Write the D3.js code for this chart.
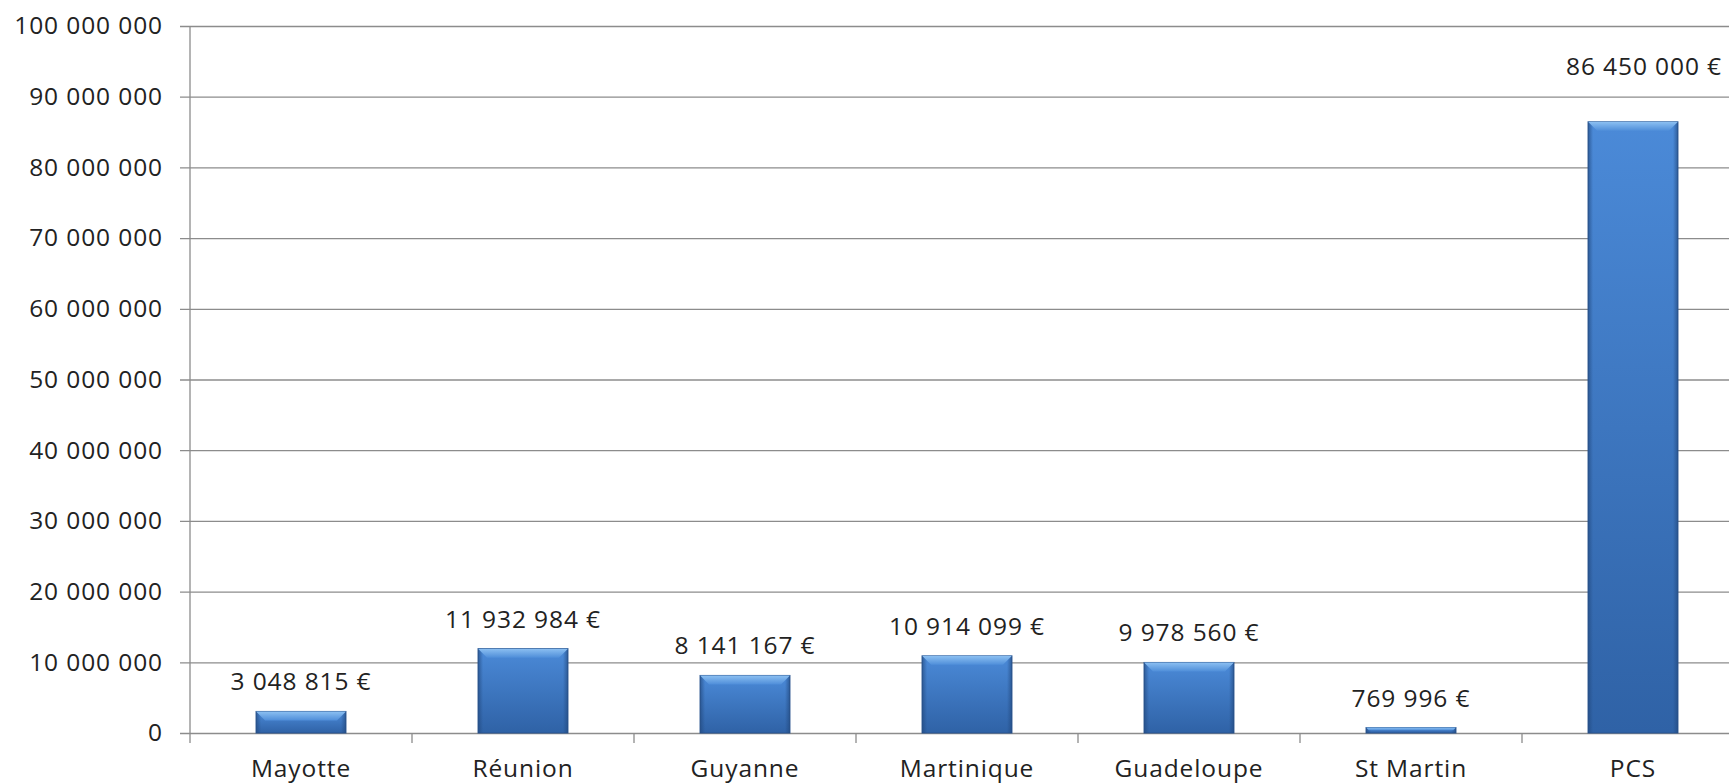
<!DOCTYPE html>
<html>
<head>
<meta charset="utf-8">
<script src="https://cdnjs.cloudflare.com/ajax/libs/d3/7.8.5/d3.min.js"></script>
<style>
body { margin: 0; background: #fff; }
svg { display: block; }
text { font-family: "Open Sans", sans-serif; fill: #222; letter-spacing: 0.9px; }
</style>
</head>
<body>
<svg width="1729" height="784"></svg>
<script>
// data
var categories = ["Mayotte", "Réunion", "Guyanne", "Martinique", "Guadeloupe", "St Martin", "PCS"];
var amounts = [3048815, 11932984, 8141167, 10914099, 9978560, 769996, 86450000];
var yTicks = [0, 10000000, 20000000, 30000000, 40000000, 50000000, 60000000, 70000000, 80000000, 90000000, 100000000];

var W = 1729, H = 784;
var plotLeft = 190, plotTop = 26, zeroY = 733;
var band = 222;
var fontSize = "24.5px";

var svg = d3.select("svg");

// space as thousands separator, like the original
var fmt = function(v) {
  return d3.format(",")(v).replace(/,/g, " ");
};

var x = d3.scaleBand()
    .domain(categories)
    .range([plotLeft, plotLeft + band * categories.length])
    .paddingInner(0.595)
    .paddingOuter(0.2975);

var y = d3.scaleLinear()
    .domain([0, 100000000])
    .range([zeroY, plotTop]);

// gradients
var defs = svg.append("defs");
var g1 = defs.append("linearGradient").attr("id", "barFill")
    .attr("x1", 0).attr("y1", 0).attr("x2", 0).attr("y2", 1);
g1.append("stop").attr("offset", "0%").attr("stop-color", "#4b8ad8");
g1.append("stop").attr("offset", "100%").attr("stop-color", "#2f62a6");

var g2 = defs.append("linearGradient").attr("id", "bevelTop")
    .attr("x1", 0).attr("y1", 0).attr("x2", 0).attr("y2", 1);
g2.append("stop").attr("offset", "0%").attr("stop-color", "#8cc0f2");
g2.append("stop").attr("offset", "100%").attr("stop-color", "#4f8ed9");

var g3 = defs.append("linearGradient").attr("id", "sideL")
    .attr("x1", 0).attr("y1", 0).attr("x2", 1).attr("y2", 0);
g3.append("stop").attr("offset", "0%").attr("stop-color", "#22497f").attr("stop-opacity", 0.7);
g3.append("stop").attr("offset", "100%").attr("stop-color", "#22497f").attr("stop-opacity", 0);

var g4 = defs.append("linearGradient").attr("id", "sideR")
    .attr("x1", 1).attr("y1", 0).attr("x2", 0).attr("y2", 0);
g4.append("stop").attr("offset", "0%").attr("stop-color", "#22497f").attr("stop-opacity", 0.7);
g4.append("stop").attr("offset", "100%").attr("stop-color", "#22497f").attr("stop-opacity", 0);

// gridlines + y labels
var yAxis = d3.axisLeft(y)
    .tickValues(yTicks)
    .tickSize(10)
    .tickPadding(17)
    .tickFormat(fmt);

var ya = svg.append("g")
    .attr("transform", "translate(" + plotLeft + ",0)")
    .call(yAxis);
ya.select(".domain").remove();
ya.selectAll(".tick line")
    .attr("x1", -10)
    .attr("x2", W - plotLeft)
    .attr("stroke", "#8c8c8c")
    .attr("stroke-width", 1.3);
ya.selectAll(".tick text")
    .attr("x", -27)
    .style("font-size", fontSize)
    .attr("fill", "#222");

// vertical axis line
svg.append("line")
    .attr("x1", plotLeft).attr("x2", plotLeft)
    .attr("y1", y(100000000)).attr("y2", zeroY + 10)
    .attr("stroke", "#8c8c8c")
    .attr("stroke-width", 1.3);

// x category ticks between bands
var bounds = d3.range(1, categories.length + 1).map(function(i) { return plotLeft + band * i; });
svg.selectAll(".xtick")
  .data(bounds)
  .enter()
    .append("line")
    .attr("class", "xtick")
    .attr("x1", function(d) { return d; })
    .attr("x2", function(d) { return d; })
    .attr("y1", zeroY)
    .attr("y2", zeroY + 10)
    .attr("stroke", "#8c8c8c")
    .attr("stroke-width", 1.3);

// bars
var bars = svg.selectAll(".bar")
  .data(categories.map(function(c, i) { return {cat: c, v: amounts[i]}; }))
  .enter()
    .append("g")
    .attr("class", "bar");

bars.append("rect")
    .attr("x", function(d) { return x(d.cat); })
    .attr("y", function(d) { return y(d.v); })
    .attr("width", x.bandwidth())
    .attr("height", function(d) { return zeroY - y(d.v); })
    .attr("fill", "url(#barFill)")
    .attr("stroke", "#2a5590")
    .attr("stroke-width", 1);

var side = 5;
bars.append("rect")
    .attr("x", function(d) { return x(d.cat); })
    .attr("y", function(d) { return y(d.v); })
    .attr("width", side)
    .attr("height", function(d) { return zeroY - y(d.v); })
    .attr("fill", "url(#sideL)");
bars.append("rect")
    .attr("x", function(d) { return x(d.cat) + x.bandwidth() - side; })
    .attr("y", function(d) { return y(d.v); })
    .attr("width", side)
    .attr("height", function(d) { return zeroY - y(d.v); })
    .attr("fill", "url(#sideR)");

// top bevel
bars.append("path")
    .attr("d", function(d) {
      var x0 = x(d.cat), x1 = x0 + x.bandwidth(), t = y(d.v);
      var b = Math.min(9, (zeroY - t) / 2);
      return "M" + x0 + "," + t + "L" + x1 + "," + t +
             "L" + (x1 - b) + "," + (t + b) + "L" + (x0 + b) + "," + (t + b) + "Z";
    })
    .attr("fill", "url(#bevelTop)");

// value labels (the PCS one was dragged up and a bit right in the original)
bars.append("text")
    .attr("x", function(d) { return x(d.cat) + x.bandwidth() / 2 + (d.v > 50000000 ? 11 : 0); })
    .attr("y", function(d) { return y(d.v) - (d.v > 50000000 ? 47 : 21); })
    .attr("text-anchor", "middle")
    .style("font-size", fontSize)
    .text(function(d) { return fmt(d.v) + " €"; });

// category labels
svg.selectAll(".cat")
  .data(categories)
  .enter()
    .append("text")
    .attr("class", "cat")
    .attr("x", function(d) { return x(d) + x.bandwidth() / 2; })
    .attr("y", zeroY + 44)
    .attr("text-anchor", "middle")
    .style("font-size", fontSize)
    .text(function(d) { return d; });
</script>
</body>
</html>
